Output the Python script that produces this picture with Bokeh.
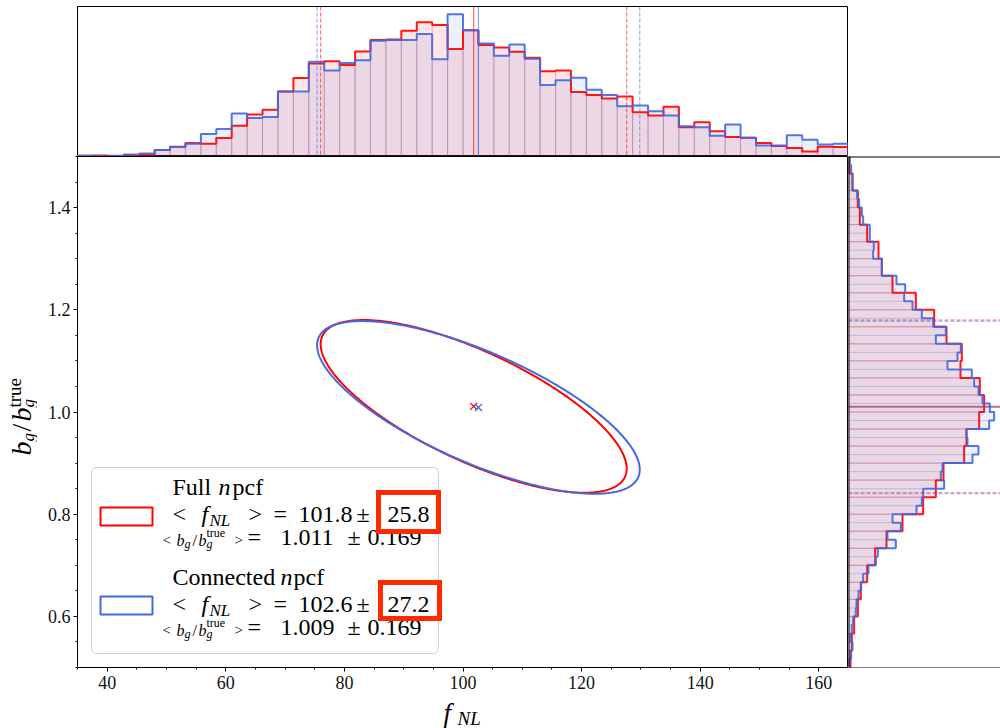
import numpy as np
from bokeh.plotting import figure
from bokeh.layouts import row, column, Spacer
from bokeh.models import Span, Label, BoxAnnotation, FixedTicker, PrintfTickFormatter, Range1d
from bokeh.core.properties import value
from bokeh.embed import file_html
from bokeh.resources import INLINE

# ---------------- data ----------------
series_names = ["Full", "Connected"]
series_colors = ["#ff0000", "#4169e1"]
fnl_mean = [101.8, 102.6]
fnl_sigma = [25.8, 27.2]
bg_mean = [1.011, 1.009]
bg_sigma = [0.169, 0.169]
corr = [-0.72, -0.72]

fnl_range = [35, 165]
bg_range = [0.5, 1.5]

# f_NL histograms (50 bins over fnl_range), arbitrary height units
fnl_counts_full = [2, 3, 1, 3, 5, 19, 29, 40, 38, 55, 92, 125, 139, 194, 234, 277, 284, 273, 313, 347,
                   349, 375, 400, 392, 320, 376, 332, 325, 312, 294, 254, 256, 192, 183, 173, 179, 132, 122, 148, 87,
                   102, 75, 58, 56, 40, 31, 25, 15, 29, 28]
fnl_counts_conn = [2, 1, 2, 6, 9, 19, 28, 38, 67, 82, 128, 115, 118, 194, 194, 282, 256, 279, 287, 345,
                   347, 347, 365, 290, 424, 376, 337, 300, 334, 291, 213, 227, 235, 199, 183, 150, 152, 135, 122, 90,
                   87, 62, 95, 56, 33, 33, 63, 50, 36, 38]
# b_g histograms listed from top (1.5) to bottom (0.5)
bg_counts_full = [2, 12, 28, 34, 56, 90, 100, 132, 202, 257, 294, 340, 336, 394, 407, 392, 354, 347, 285, 262,
                  224, 162, 114, 80, 56, 37, 28, 17, 10, 6]
bg_counts_conn = [4, 8, 12, 12, 26, 32, 40, 44, 64, 64, 76, 74, 100, 100, 144, 170, 167, 192, 220, 254,
                  292, 262, 337, 327, 297, 370, 377, 390, 402, 424, 437, 422, 354, 357, 390, 372, 282, 277, 287, 224,
                  220, 204, 132, 157, 117, 142, 88, 82, 60, 44, 38, 30, 24, 22, 14, 10, 6, 12, 8, 2]

x_ticks = [40, 60, 80, 100, 120, 140, 160]
y_ticks = [0.6, 0.8, 1.0, 1.2, 1.4]

# ---------------- layout constants ----------------
LEFT, FRAME_W, FRAME_H, BOTTOM = 77, 771, 511, 32
TOP_PAD, TOP_H, RIGHT_W = 6, 150, 152
YLAB_W = 37
WIN_W, WIN_H = 1000, 728
TOP_YMAX, RIGHT_XMAX = 447, 456
FONT = "Liberation Serif"
MID = 0.34  # distance from alphabetic baseline to the "middle" anchor, in em
FRAME_TOP = TOP_PAD + TOP_H
XLAB_TOP = FRAME_TOP + FRAME_H + BOTTOM
BORDER = LEFT - YLAB_W


def dx(px):
    return fnl_range[0] + (px - LEFT) * (fnl_range[1] - fnl_range[0]) / FRAME_W


def dy(py):
    return bg_range[1] - (py - FRAME_TOP) * (bg_range[1] - bg_range[0]) / FRAME_H


# ---------------- main panel ----------------
main = figure(width=BORDER + FRAME_W, height=FRAME_H + BOTTOM,
              x_range=Range1d(*fnl_range), y_range=Range1d(*bg_range),
              output_backend="svg", toolbar_location=None, tools="",
              min_border_left=BORDER, min_border_right=0, min_border_top=0,
              min_border_bottom=BOTTOM)
main.outline_line_color = "black"
main.outline_line_width = 1
main.grid.visible = False
main.xaxis.ticker = FixedTicker(ticks=x_ticks, minor_ticks=list(range(35, 170, 5)))
main.yaxis.ticker = FixedTicker(ticks=y_ticks, minor_ticks=[round(0.5 + 0.05 * k, 2) for k in range(21)])
main.yaxis.formatter = PrintfTickFormatter(format="%.1f")
for ax in (main.xaxis, main.yaxis):
    ax.axis_line_color = None
    ax.major_tick_in = 0
    ax.major_tick_out = 4
    ax.minor_tick_in = 0
    ax.minor_tick_out = 2
    ax.major_tick_line_color = "black"
    ax.minor_tick_line_color = "black"
    ax.major_label_text_font = FONT
    ax.major_label_text_font_size = "18px"
    ax.major_label_text_color = "#111111"
main.xaxis.major_label_standoff = 4
main.yaxis.major_label_standoff = 3

t = np.linspace(0, 2 * np.pi, 400)
for mf, sf, mb, sb, r, c in zip(fnl_mean, fnl_sigma, bg_mean, bg_sigma, corr, series_colors):
    ex = mf + sf * np.cos(t)
    ey = mb + sb * (r * np.cos(t) + np.sqrt(1 - r * r) * np.sin(t))
    main.line(ex, ey, line_color=c, line_width=2)
for mf, mb, c in zip(fnl_mean, bg_mean, series_colors):
    main.scatter([mf], [mb], marker="x", size=10, line_color=c, line_width=1.3)

# legend box
main.add_layout(BoxAnnotation(left=dx(91), right=dx(438), top=dy(467), bottom=dy(653),
                              fill_color="white", fill_alpha=0.85, line_color="#cfcfcf",
                              line_alpha=1.0, line_width=1, border_radius=5))


def lab(px, py, text, size=24, style="normal"):
    # py is the alphabetic baseline in picture pixels
    main.add_layout(Label(x=dx(px), y=dy(py - MID * size), text=text, text_font=FONT,
                          text_font_size=f"{size}px", text_font_style=style,
                          text_baseline="middle", text_align="left", text_color="black"))


entry_base = [495, 585]
name_pos = [(218, 232), (280, 293)]
for i in range(2):
    c = series_colors[i]
    b0 = entry_base[i]
    pt = 507 + (596 - 507) * i
    main.add_layout(BoxAnnotation(left=dx(100), right=dx(152), top=dy(pt), bottom=dy(pt + 18),
                                  fill_color="white", fill_alpha=1.0, line_color=c,
                                  line_alpha=1.0, line_width=2))
    # line 1
    lab(172, b0, series_names[i])
    lab(name_pos[i][0], b0, "n", style="italic")
    lab(name_pos[i][1], b0, "pcf")
    # line 2
    b1 = b0 + 27
    lab(172, b1, "<")
    lab(201, b1, "f", style="italic")
    lab(209, b1 + 4, "NL", size=17, style="italic")
    lab(248, b1, ">")
    lab(273, b1, "=")
    lab(298, b1, f"{fnl_mean[i]:.1f}")
    lab(356, b1, "±")
    lab(387, b1, f"{fnl_sigma[i]:.1f}")
    # line 3
    b2 = b1 + 23
    lab(162, b2, "<", size=15)
    lab(176, b2, "b", size=16, style="italic")
    lab(184, b2 + 3, "g", size=12, style="italic")
    lab(192, b2, "/", size=16)
    lab(198, b2, "b", size=16, style="italic")
    lab(206, b2 + 3, "g", size=12, style="italic")
    lab(206, b2 - 8, "true", size=12)
    lab(234, b2, ">", size=15)
    lab(247, b2, "=")
    lab(280, b2, f"{bg_mean[i]:.3f}")
    lab(347, b2, "±")
    lab(367, b2, f"{bg_sigma[i]:.3f}")

# highlight boxes around the sigma values
for (l, tp, rr, bt) in [(378, 492, 438, 531), (380, 582, 439, 618)]:
    main.add_layout(BoxAnnotation(left=dx(l), right=dx(rr), top=dy(tp), bottom=dy(bt),
                                  fill_color=None, fill_alpha=0.0, line_color="#ff2a00",
                                  line_alpha=1.0, line_width=5, line_join="miter"))

# ---------------- top histogram ----------------
top = figure(width=BORDER + FRAME_W, height=TOP_PAD + TOP_H, x_range=main.x_range,
             y_range=Range1d(0, TOP_YMAX), x_axis_type=None, y_axis_type=None,
             output_backend="svg", toolbar_location=None, tools="",
             min_border_left=BORDER, min_border_right=0, min_border_top=TOP_PAD, min_border_bottom=0)
top.outline_line_color = "black"
top.outline_line_width = 1
fedges = np.linspace(fnl_range[0], fnl_range[1], len(fnl_counts_full) + 1)
for counts, c in zip([fnl_counts_full, fnl_counts_conn], series_colors):
    top.quad(left=fedges[:-1], right=fedges[1:], bottom=0, top=counts,
             fill_color=c, fill_alpha=0.1, line_color=c, line_alpha=0.15, line_width=1)
for counts, c in zip([fnl_counts_full, fnl_counts_conn], series_colors):
    xs = np.repeat(fedges, 2)
    ys = np.concatenate([[0], np.repeat(counts, 2), [0]])
    top.line(xs, ys, line_color=c, line_width=2, line_alpha=0.9)
for mf, sf, c in zip(fnl_mean, fnl_sigma, series_colors):
    top.add_layout(Span(location=mf, dimension="height", line_color=c, line_alpha=0.6, line_width=1.2))
    for loc in (mf - sf, mf + sf):
        top.add_layout(Span(location=loc, dimension="height", line_color=c, line_alpha=0.55,
                            line_width=1.2, line_dash="4 2"))

# ---------------- right histogram ----------------
right = figure(width=RIGHT_W, height=FRAME_H + BOTTOM, x_range=Range1d(0, RIGHT_XMAX),
               y_range=main.y_range, x_axis_type=None, y_axis_type=None,
               output_backend="svg", toolbar_location=None, tools="",
               min_border_left=0, min_border_right=0, min_border_top=0, min_border_bottom=BOTTOM)
right.outline_line_color = None
for counts, c in zip([bg_counts_full, bg_counts_conn], series_colors):
    bedges = np.linspace(bg_range[1], bg_range[0], len(counts) + 1)
    right.quad(left=0, right=counts, top=bedges[:-1], bottom=bedges[1:],
               fill_color=c, fill_alpha=0.1, line_color=c, line_alpha=0.15, line_width=1)
for counts, c in zip([bg_counts_full, bg_counts_conn], series_colors):
    bedges = np.linspace(bg_range[1], bg_range[0], len(counts) + 1)
    ys = np.repeat(bedges, 2)
    xs = np.concatenate([[0], np.repeat(counts, 2), [0]])
    right.line(xs, ys, line_color=c, line_width=2, line_alpha=0.9)
for mb, sb, c in zip(bg_mean, bg_sigma, series_colors):
    right.add_layout(Span(location=mb, dimension="width", line_color=c, line_alpha=0.6, line_width=1.2))
    for loc in (mb - sb, mb + sb):
        right.add_layout(Span(location=loc, dimension="width", line_color=c, line_alpha=0.55,
                              line_width=1.2, line_dash="4 2"))
right.add_layout(Span(location=0, dimension="height", line_color="black", line_width=2))
right.add_layout(Span(location=bg_range[1], dimension="width", line_color="black", line_width=2))
right.add_layout(Span(location=bg_range[0], dimension="width", line_color="black", line_width=1))


# ---------------- axis-label strips ----------------
def strip(w, h):
    f = figure(width=w, height=h, x_range=Range1d(0, w), y_range=Range1d(0, h),
               x_axis_type=None, y_axis_type=None, output_backend="svg",
               toolbar_location=None, tools="", min_border=0)
    f.outline_line_color = None
    return f


ylab = strip(YLAB_W, WIN_H)


def ytxt(bx, py, text, size, style="normal"):
    # bx: baseline position (x, pixels); py: start of text (y, pixels); reads upward
    ylab.text(x=[bx - MID * size], y=[WIN_H - py], text=[text], angle=np.pi / 2,
              text_font=value(FONT), text_font_size=f"{size}px", text_font_style=style,
              text_baseline="middle", text_align="left", text_color="black")


ytxt(31, 455, "b", 28, "italic")
ytxt(34, 441, "g", 17, "italic")
ytxt(31, 431, "/", 28)
ytxt(31, 421, "b", 28, "italic")
ytxt(34, 407, "g", 17, "italic")
ytxt(20, 407, "true", 19)

xlab_h = WIN_H - XLAB_TOP
xlab = strip(WIN_W - YLAB_W, xlab_h)


def xtxt(px, py, text, size, style="normal"):
    xlab.text(x=[px - YLAB_W], y=[WIN_H - (py - MID * size)], text=[text],
              text_font=value(FONT), text_font_size=f"{size}px", text_font_style=style,
              text_baseline="middle", text_align="left", text_color="black")


xtxt(443, 722, "f", 27, "italic")
xtxt(457, 724, "NL", 19, "italic")

layout = row(ylab,
             column(row(top, Spacer(width=RIGHT_W, height=TOP_PAD + TOP_H)),
                    row(main, right),
                    xlab))
open("out.html", "w").write(file_html(layout, INLINE))
